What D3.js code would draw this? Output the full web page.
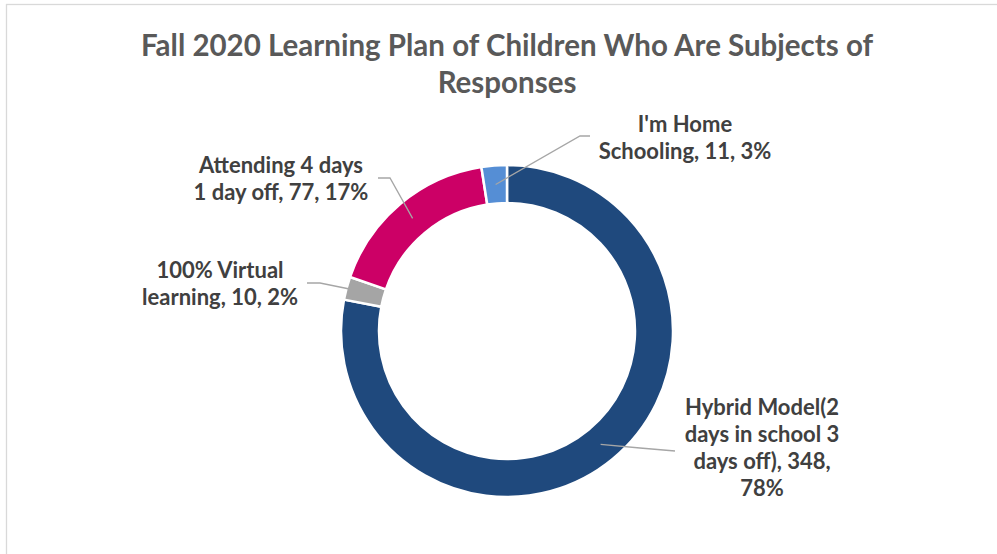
<!DOCTYPE html>
<html>
<head>
<meta charset="utf-8">
<script src="https://cdn.jsdelivr.net/npm/d3@7"></script>
<style>
  html, body { margin: 0; padding: 0; background: #fff; }
  svg { display: block; }
</style>
</head>
<body>
<svg id="chart" width="997" height="554"></svg>
<script>
// ---- data ----
const titleLines = ["Fall 2020 Learning Plan of Children Who Are Subjects of", "Responses"];
const categories = ["Hybrid Model(2 days in school 3 days off)", "100% Virtual learning", "Attending 4 days 1 day off", "I'm Home Schooling"];
const values = [348, 10, 77, 11];
const percents = ["78%", "2%", "17%", "3%"];
const colors = ["#1F497D", "#A5A5A5", "#CC0066", "#558ED5"];
// label text lines (as wrapped in the original)
const labelLines = [
  ["Hybrid Model(2", "days in school 3", "days off), 348,", "78%"],
  ["100% Virtual", "learning, 10, 2%"],
  ["Attending 4 days", "1 day off, 77, 17%"],
  ["I'm Home", "Schooling, 11, 3%"]
];

// ---- layout ----
const W = 997, H = 554;
const cx = 507, cy = 331, rOuter = 166, rInner = 128;
// label anchor (center x, first baseline y), leader elbow points
const labelLayout = [
  { x: 762, y: 415, elbow: [[640, 448], [675, 451]], leaderR: null },
  { x: 220, y: 278, elbow: [[320, 283], [307, 283]], leaderR: 163 },
  { x: 281, y: 173, elbow: [[390, 178], [378, 178]], leaderR: null },
  { x: 685, y: 132, elbow: [[580, 136], [590, 136]], leaderR: null }
];

const svg = d3.select("#chart");

// chart border
svg.append("rect")
  .attr("x", 6.5).attr("y", 4.5)
  .attr("width", W + 10).attr("height", H + 10)
  .attr("fill", "#fff")
  .attr("stroke", "#D9D9D9").attr("stroke-width", 1.3);

// title
const title = svg.append("text")
  .attr("x", 507).attr("text-anchor", "middle")
  .attr("font-family", "Lato, 'Open Sans', sans-serif")
  .attr("font-weight", "bold").attr("font-size", 29.5)
  .attr("fill", "#595959");
titleLines.forEach((t, i) => {
  title.append("tspan").attr("x", 507).attr("y", 56 + i * 37).text(t);
});

// donut
const pie = d3.pie().sort(null).value(d => d)(values);
const arc = d3.arc().innerRadius(rInner).outerRadius(rOuter);
const g = svg.append("g").attr("transform", `translate(${cx},${cy})`);
g.selectAll("path").data(pie).join("path")
  .attr("d", arc)
  .attr("fill", (d, i) => colors[i])
  .attr("stroke", "#fff").attr("stroke-width", 2.5);

// leader lines
const midR = (rInner + rOuter) / 2;
pie.forEach((d, i) => {
  const a = (d.startAngle + d.endAngle) / 2;
  const r = labelLayout[i].leaderR || midR;
  const p0 = [cx + r * Math.sin(a), cy - r * Math.cos(a)];
  const pts = [p0].concat(labelLayout[i].elbow);
  svg.append("path")
    .attr("d", d3.line()(pts))
    .attr("fill", "none")
    .attr("stroke", "#A6A6A6").attr("stroke-width", 1.3);
});

// labels
labelLines.forEach((lines, i) => {
  const L = labelLayout[i];
  const t = svg.append("text")
    .attr("text-anchor", "middle")
    .attr("font-family", "Lato, 'Open Sans', sans-serif")
    .attr("font-weight", "bold").attr("font-size", 22)
    .attr("fill", "#404040");
  lines.forEach((s, j) => {
    t.append("tspan").attr("x", L.x).attr("y", L.y + j * 27).text(s);
  });
});
</script>
</body>
</html>
